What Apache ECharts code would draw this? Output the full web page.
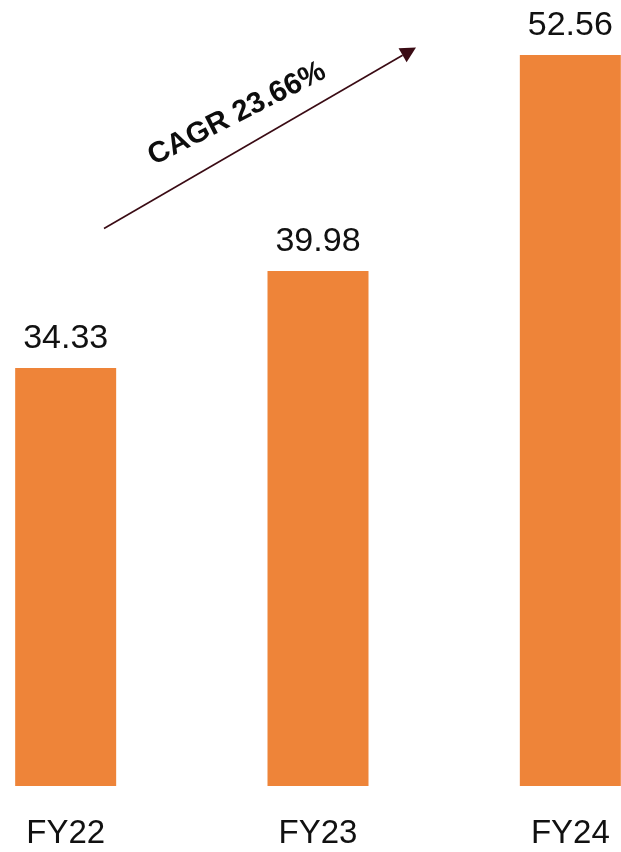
<!DOCTYPE html>
<html>
<head>
<meta charset="utf-8">
<style>
  html, body { margin: 0; padding: 0; background: #ffffff; }
  #chart { width: 621px; height: 852px; }
</style>
<script src="https://cdn.jsdelivr.net/npm/echarts@6/dist/echarts.min.js"></script>
</head>
<body>
<div id="chart"></div>
<script>
// Revenue by fiscal year
const categories = ['FY22', 'FY23', 'FY24'];
const revenue = [34.33, 39.98, 52.56];
const cagrText = 'CAGR 23.66%';

const chart = echarts.init(document.getElementById('chart'));

// Growth arrow geometry (annotation drawn above the bars)
const arrowStart = [104, 228.5];
const arrowTip = [416, 47.5];
const headLen = 15.5, headHalf = 8;
const dx = arrowTip[0] - arrowStart[0], dy = arrowTip[1] - arrowStart[1];
const len = Math.sqrt(dx * dx + dy * dy);
const ux = dx / len, uy = dy / len;
const baseMid = [arrowTip[0] - ux * headLen, arrowTip[1] - uy * headLen];
const headPts = [
  arrowTip,
  [baseMid[0] - uy * headHalf, baseMid[1] + ux * headHalf],
  [baseMid[0] + uy * headHalf, baseMid[1] - ux * headHalf]
];
const arrowColor = '#3a0b14';
const textFont = 'Liberation Sans, Arial, sans-serif';

chart.setOption({
  backgroundColor: '#ffffff',
  animation: false,
  // the plot area is wider than the canvas so the outer bars sit near the edges
  grid: { left: -60.5, right: -75.5, top: 13, bottom: 66, outerBoundsMode: 'none', containLabel: false },
  xAxis: {
    type: 'category',
    data: categories,
    axisLine: { show: false },
    axisTick: { show: false },
    splitLine: { show: false },
    axisLabel: {
      margin: 31,
      fontSize: 33,
      color: '#111111',
      fontFamily: textFont
    }
  },
  yAxis: {
    type: 'value',
    min: 10,
    max: 55,
    show: false,
    splitLine: { show: false }
  },
  series: [{
    type: 'bar',
    data: revenue,
    barWidth: 101,
    itemStyle: { color: '#ee8439' },
    label: {
      show: true,
      position: 'top',
      distance: 12,
      fontSize: 34,
      color: '#111111',
      fontFamily: textFont,
      formatter: p => p.value.toFixed(2)
    }
  }],
  graphic: [
    {
      type: 'line',
      shape: { x1: arrowStart[0], y1: arrowStart[1], x2: baseMid[0], y2: baseMid[1] },
      style: { stroke: arrowColor, lineWidth: 1.6 }
    },
    {
      type: 'polygon',
      shape: { points: headPts },
      style: { fill: arrowColor }
    },
    {
      type: 'text',
      x: 237,
      y: 114,
      rotation: 27 * Math.PI / 180,
      style: {
        text: cagrText,
        fontSize: 29.5,
        fontWeight: 'bold',
        fontFamily: textFont,
        fill: '#0d0d0d',
        align: 'center',
        verticalAlign: 'middle'
      }
    }
  ]
});
</script>
</body>
</html>
